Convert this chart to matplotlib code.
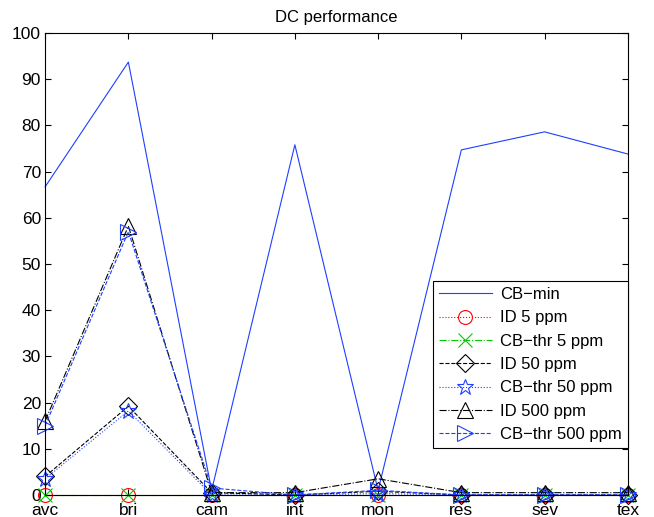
import matplotlib.pyplot as plt
import numpy as np

plt.rcParams['font.family'] = ['Liberation Sans', 'DejaVu Sans']

cats = ['avc', 'bri', 'cam', 'int', 'mon', 'res', 'sev', 'tex']
cb_min = [66.7, 93.7, 1.0, 75.8, 1.0, 74.7, 78.6, 73.8]
id_5 = [0, 0, 0, 0, 0, 0, 0, 0]
cbthr_5 = [0, 0, 0, 0, 0, 0, 0, 0]
id_50 = [4.0, 19.2, 0.5, 0.0, 0.8, 0.0, 0.0, 0.0]
cbthr_50 = [3.5, 18.2, 0.0, 0.0, 0.3, 0.0, 0.0, 0.0]
id_500 = [16.0, 58.2, 0.5, 0.5, 3.5, 0.5, 0.5, 0.5]
cbthr_500 = [15.0, 57.0, 1.5, 0.0, 1.0, 0.0, 0.0, 0.0]

x = np.arange(1, len(cats) + 1)
blue = '#1f3fff'

fig = plt.figure(figsize=(6.54, 5.17), dpi=100)
ax = fig.add_axes([0.069, 0.0426, 0.891, 0.8936])

lw = 0.8
mew = 0.8
ax.plot(x, cb_min, '-', color=blue, lw=lw, label='CB\u2212min', clip_on=False)
ax.plot(x, id_5, ':', color='red', lw=lw, marker='o', ms=10, mew=mew, mfc='none',
        label='ID 5 ppm', clip_on=False)
ax.plot(x, cbthr_5, '-.', color='#00cc00', lw=lw, marker='x', ms=10, mew=mew,
        label='CB\u2212thr 5 ppm', clip_on=False)
ax.plot(x, id_50, '--', color='black', lw=lw, marker='D', ms=9, mew=mew, mfc='none',
        label='ID 50 ppm', clip_on=False)
ax.plot(x, cbthr_50, ':', color=blue, lw=lw, marker='*', ms=12, mew=mew, mfc='none',
        label='CB\u2212thr 50 ppm', clip_on=False)
ax.plot(x, id_500, '-.', color='black', lw=lw, marker='^', ms=11, mew=mew, mfc='none',
        label='ID 500 ppm', clip_on=False)
ax.plot(x, cbthr_500, '--', color=blue, lw=lw, marker='>', ms=11, mew=mew, mfc='none',
        label='CB\u2212thr 500 ppm', clip_on=False)

ax.set_xlim(1, 8)
ax.set_ylim(0, 100)
ax.set_xticks(x)
ax.set_xticklabels(cats)
ax.set_yticks(np.arange(0, 101, 10))
ax.tick_params(direction='in', top=True, right=True, labelsize=12.5, length=4)
ax.tick_params(axis='x', pad=6)
ax.tick_params(axis='y', pad=3)
ax.set_title('DC performance', fontsize=12, pad=8)

leg = ax.legend(loc='lower right', bbox_to_anchor=(1.0, 0.102), fontsize=12,
                fancybox=False, framealpha=1, edgecolor='black', handlelength=3.2,
                borderaxespad=0, labelspacing=0.5, handletextpad=0.5, borderpad=0.35)
leg.get_frame().set_linewidth(0.8)

fig.savefig('out.png', dpi=100)
